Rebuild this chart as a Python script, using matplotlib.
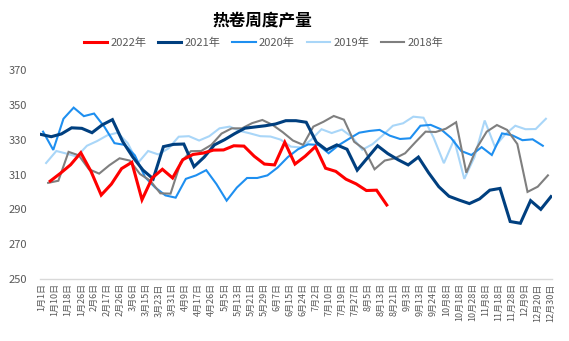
import numpy as np
import matplotlib.pyplot as plt

plt.rcParams['font.family'] = ['Noto Sans CJK SC', 'DejaVu Sans']

# x tick labels (dates)
date_labels = ['1月1日', '1月10日', '1月18日', '1月26日', '2月6日', '2月17日', '2月26日',
               '3月6日', '3月15日', '3月23日', '3月31日', '4月9日', '4月17日', '4月26日',
               '5月5日', '5月13日', '5月21日', '5月29日', '6月7日', '6月15日', '6月24日',
               '7月2日', '7月10日', '7月19日', '7月27日', '8月5日', '8月13日', '8月21日',
               '9月3日', '9月13日', '9月24日', '10月8日', '10月18日', '10月28日',
               '11月8日', '11月18日', '11月28日', '12月9日', '12月20日', '12月30日']

# weekly output, by year
y2022 = [306.2, 310.7, 315.6, 322.5, 311.8, 298.2, 304.5, 313.4, 317, 295.5,
         308, 313, 308, 318.5, 321.5, 322.3, 324, 324.1, 326.5, 326.3,
         320.5, 316, 315.5, 328.5, 316, 320.5, 326, 313.6, 311.8, 307.3,
         304.6, 300.8, 301, 292.5]
y2021 = [333, 331.7, 333.3, 336.8, 336.5, 334, 338.5, 341.5, 329, 320,
         312.5, 307.5, 326, 327.3, 327.5, 314.5, 320, 327, 330, 333.5,
         336.6, 337.3, 338, 339, 340.9, 340.9, 340, 328.5, 324.1, 327,
         324.5, 312.5, 319.5, 326.5, 322, 318.5, 315.5, 320, 311, 303,
         297.5, 295.3, 293.3, 296, 301, 302, 283, 282, 295, 290, 297.3]
y2020 = [334.6, 324.1, 342, 348.4, 343.5, 345, 337.5, 328, 327, 321,
         308.5, 302.5, 298, 296.7, 307.5, 309.5, 312.5, 304.5, 295, 302.5,
         308, 308, 309.5, 314, 320, 324.5, 327.3, 327, 322.2, 326.9,
         330.5, 334, 335, 335.6, 332.3, 330.4, 330.8, 338, 338.5, 336,
         331, 323.5, 321.2, 325.7, 321.2, 333.6, 332.5, 329.7, 330.2, 326.5]
y2019 = [316.6, 323.5, 322, 320.3, 326.5, 329.2, 332.5, 334, 328, 316.6,
         323.5, 321.5, 325, 331.7, 332, 329.5, 332, 336.5, 337.5, 335,
         333.6, 332, 331.8, 330, 326, 325.5, 330, 336, 333.8, 335.8,
         331.5, 324.2, 327.4, 332.5, 338, 339.4, 343.2, 342.6, 331, 316.5,
         330, 307.5, 320, 341, 326, 333, 338, 336, 336.1, 342]
y2018 = [305.2, 306.4, 323, 321, 313, 310.5, 315.3, 319.3, 318, 310.3,
         306.5, 299.2, 299, 317, 323.4, 323.5, 327, 333.5, 336.5, 336.5,
         339.5, 341.3, 338.5, 334.3, 329.5, 327, 337.5, 340.3, 343.6, 341.5,
         328.8, 324.5, 313, 318, 319.3, 322.2, 328.5, 334.6, 334.4, 336.3,
         340, 311, 325, 334.6, 338.4, 335.6, 327.5, 300, 303, 309.5]

# name, values, colour, width, first-week offset, zorder
series = [
    ('2022年', y2022, '#FF0000', 2.2, 0.9, 5),
    ('2021年', y2021, '#003F7F', 2.2, 0.0, 4),
    ('2020年', y2020, '#1E8FF0', 1.5, 0.2, 2),
    ('2019年', y2019, '#A9D6F8', 1.5, 0.5, 1),
    ('2018年', y2018, '#7F7F7F', 1.5, 0.7, 3),
]

fig = plt.figure(figsize=(5.69, 3.41), dpi=100)
ax = fig.add_axes([40 / 569, 1 - 279 / 341, 512 / 569, 209 / 341])

handles = []
for name, vals, color, lw, off, z in series:
    x = off + np.arange(len(vals))
    ln, = ax.plot(x, vals, color=color, lw=lw, label=name, zorder=z,
                  solid_joinstyle='miter')
    handles.append(ln)

ax.set_xlim(-0.1, 50.1)
ax.set_ylim(250, 370)
ax.set_yticks(np.arange(250, 371, 20))
ax.set_xticks(np.linspace(0.1, 50.0, len(date_labels)))
ax.set_xticklabels(date_labels, rotation=90, fontsize=6.5, color='#595959')
ax.tick_params(axis='both', length=0)
ax.tick_params(axis='y', labelsize=8, labelcolor='#595959', pad=9)
ax.tick_params(axis='x', pad=3)

for s in ['top', 'right', 'left']:
    ax.spines[s].set_visible(False)
ax.spines['bottom'].set_color('#D9D9D9')
ax.spines['bottom'].set_linewidth(1.0)

fig.text(0.461, 1 - 21 / 341, '热卷周度产量', ha='center', va='center',
         fontsize=12, fontweight='heavy', color='black')

leg = fig.legend(handles=handles, loc='center', bbox_to_anchor=(0.463, 1 - 43 / 341),
                 ncol=5, frameon=False, fontsize=8, handlelength=2.1,
                 handletextpad=0.3, columnspacing=1.05)
for t in leg.get_texts():
    t.set_color('#595959')

fig.savefig('out.png', dpi=100)
